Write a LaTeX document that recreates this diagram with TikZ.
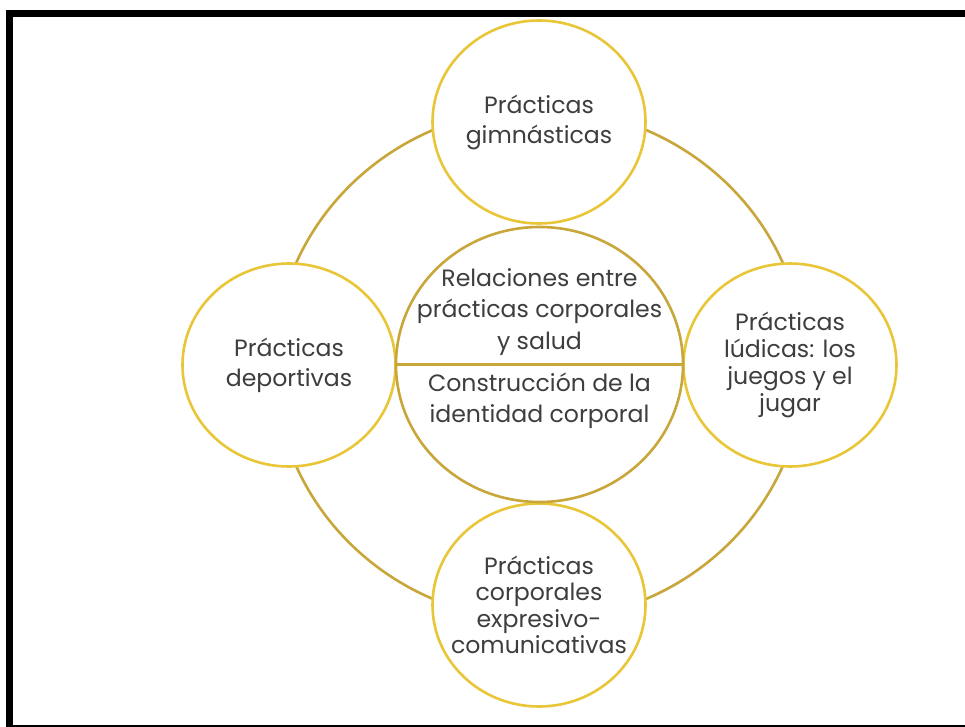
\documentclass[tikz,border=0pt]{standalone}
\usepackage{fontspec}
\setmainfont{Poppins}
\usetikzlibrary{shapes.geometric}
\definecolor{ringgold}{RGB}{200,166,58}
\definecolor{circgold}{RGB}{232,198,56}
\definecolor{textgray}{RGB}{62,62,62}
\tikzset{
  topic/.style={ellipse, draw=circgold, line width=2.6pt, fill=white,
    minimum width=213pt, minimum height=203pt, inner sep=-20pt,
    align=center, text=textgray, font=\fontsize{23.6}{30}\selectfont},
  core/.style={topic, draw=ringgold, minimum width=287pt, minimum height=275pt},
  coretext/.style={align=center, text=textgray, inner sep=0pt,
    font=\fontsize{23.6}{31.5}\selectfont},
}
\begin{document}
\begin{tikzpicture}[x=1pt, y=-1pt]
\useasboundingbox (0,0) rectangle (965,727);
\fill [white] (0,0) rectangle (965,727);
\fill [black] (6,10) rectangle (965,17);
\fill [black] (6,10) rectangle (13,727);
\fill [black] (6,725) rectangle (965,727);
\draw [ringgold, line width=2.6pt] (539.5,364.5) ellipse [x radius=265pt, y radius=256pt];
\node [topic] (gimn) at (539,122) {Prácticas\\gimnásticas};
\node [topic] (depor) at (289,365) {Prácticas\\deportivas};
\node [topic, font=\fontsize{23.6}{27}\selectfont] (ludic) at (790,365) {Prácticas\\lúdicas: los\\juegos y el\\jugar};
\node [topic, font=\fontsize{23.6}{26.5}\selectfont] (expre) at (539,605) {Prácticas\\corporales\\expresivo-\\comunicativas};
\node [core] (salud) at (539.5,364.5) {};
\draw [ringgold, line width=3.4pt] (salud.west) -- (salud.east);
\node [coretext] (relac) at (539.5,312) {Relaciones entre\\prácticas corporales\\y salud};
\node [coretext] (ident) at (539.5,401) {Construcción de la\\identidad corporal};
\end{tikzpicture}
\end{document}
